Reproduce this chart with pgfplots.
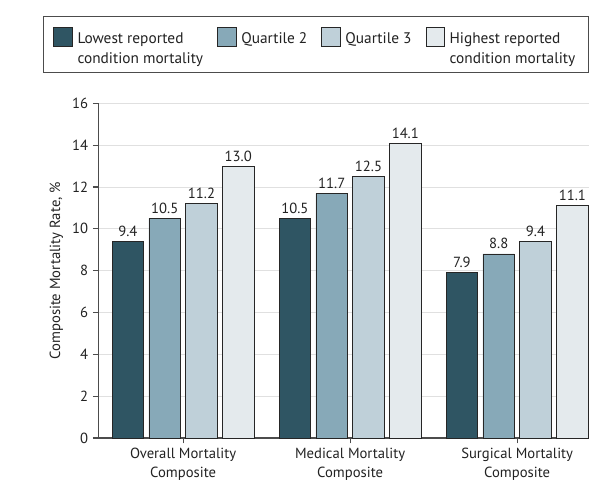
\documentclass[border=0pt]{standalone}
\usepackage{pgfplots}
\pgfplotsset{compat=1.18}
\usepackage{fontspec}
\setmainfont{PT Sans}
\definecolor{c1}{HTML}{2F5563}
\definecolor{c2}{HTML}{87A9B8}
\definecolor{c3}{HTML}{BFD0D9}
\definecolor{c4}{HTML}{E4EAED}
\definecolor{txt}{HTML}{222222}
\newcommand{\ls}{\rule{0pt}{15.5pt}}
\begin{document}
\begin{tikzpicture}[font=\fontsize{11}{13}\selectfont]
\begin{axis}[
  scale only axis,
  width=368pt, height=251pt,
  ybar=4pt, bar width=23.6pt,
  xmin=-0.508, xmax=2.43,
  ymin=0, ymax=16,
  ytick={0,2,...,16},
  xtick={0,1,2},
  xticklabels={{Overall Mortality\\Composite},{Medical Mortality\\Composite},{Surgical Mortality\\Composite}},
  xticklabel style={align=center, text=txt, font=\fontsize{11}{14.25}\selectfont},
  yticklabel style={text=txt},
  /pgf/number format/assume math mode=true,
  axis x line*=bottom, axis y line*=left,
  axis line style={draw=black!70, line width=0.8pt},
  tick style={draw=black!70, line width=0.8pt},
  tick align=outside, major tick length=4pt,
  ymajorgrids, grid style={draw=black!12, line width=0.6pt},
  ylabel={Composite Mortality Rate, \%},
  ylabel style={text=txt},
  nodes near coords,
  nodes near coords style={text=txt, /pgf/number format/fixed, /pgf/number format/precision=1, /pgf/number format/fixed zerofill, /pgf/number format/assume math mode=true},
  every axis plot/.append style={draw=black!85, line width=0.6pt},
  legend columns=4,
  legend style={at={(0,1)}, anchor=north west, xshift=-41.45pt, yshift=65.5pt,
    draw=black!70, line width=0.6pt,
    font=\fontsize{11.5}{15}\selectfont,
    cells={anchor=west, align=left}, text=txt,
    /tikz/every even column/.append style={column sep=8.5pt},
    /tikz/every odd column/.append style={column sep=1.5pt},
    inner xsep=7.5pt, inner ysep=3pt},
  legend image code/.code={\draw[#1] (0pt,-1.5pt) rectangle (14pt,12.5pt); \path (0pt,-12.5pt);},
  clip=false,
]
\addplot[fill=c1] coordinates {(0,9.4) (1,10.5) (2,7.9)};
\addplot[fill=c2] coordinates {(0,10.5) (1,11.7) (2,8.8)};
\addplot[fill=c3] coordinates {(0,11.2) (1,12.5) (2,9.4)};
\addplot[fill=c4] coordinates {(0,13.0) (1,14.1) (2,11.1)};
\legend{{\ls Lowest reported\\condition mortality},{\ls Quartile 2\\\strut},{\ls Quartile 3\\\strut},{\ls Highest reported\\condition mortality}}
\path (rel axis cs:0,0) ++(-73.7pt,-40.5pt) rectangle ++(457.5pt,369pt);
\end{axis}
\end{tikzpicture}
\end{document}
